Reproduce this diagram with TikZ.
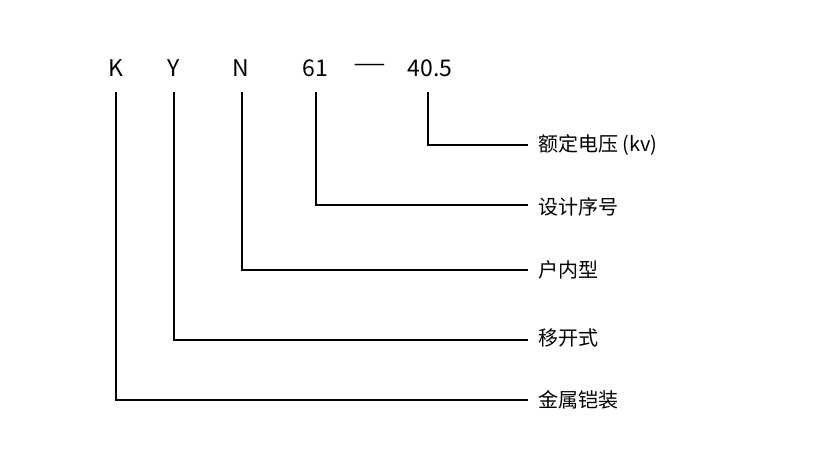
\documentclass[tikz,border=0pt]{standalone}
\usepackage{fontspec}
\setmainfont{Noto Sans CJK SC}
\tikzset{code/.style={font=\fontsize{23}{27}\selectfont, inner sep=0pt},
         item/.style={font=\fontsize{20}{24}\selectfont, anchor=west, inner sep=0pt},
         lead/.style={line width=1.3pt}}
\begin{document}
\begin{tikzpicture}[x=1pt,y=-1pt]
\useasboundingbox (0,0) rectangle (825,464);
\node[code] (k) at (116,68) {K};
\node[code] (y) at (174,68) {Y};
\node[code] (n) at (241,68) {N};
\node[code] (s) at (315,68) {61};
\node[code, xscale=1.6] (d) at (370,68) {—};
\node[code] (v) at (430,68) {40.5};

\node[item] (t1) at (538,145) {额定电压 (kv)};
\node[item] (t2) at (538,207) {设计序号};
\node[item] (t3) at (538,270) {户内型};
\node[item] (t4) at (538,338) {移开式};
\node[item] (t5) at (538,400) {金属铠装};

\coordinate (c1) at (528,145);
\coordinate (c2) at (528,205);
\coordinate (c3) at (528,270);
\coordinate (c4) at (528,340);
\coordinate (c5) at (528,400);

\draw[lead] (428,92) |- (c1);
\draw[lead] (316,92) |- (c2);
\draw[lead] (242,92) |- (c3);
\draw[lead] (174,92) |- (c4);
\draw[lead] (116,92) |- (c5);
\end{tikzpicture}
\end{document}
